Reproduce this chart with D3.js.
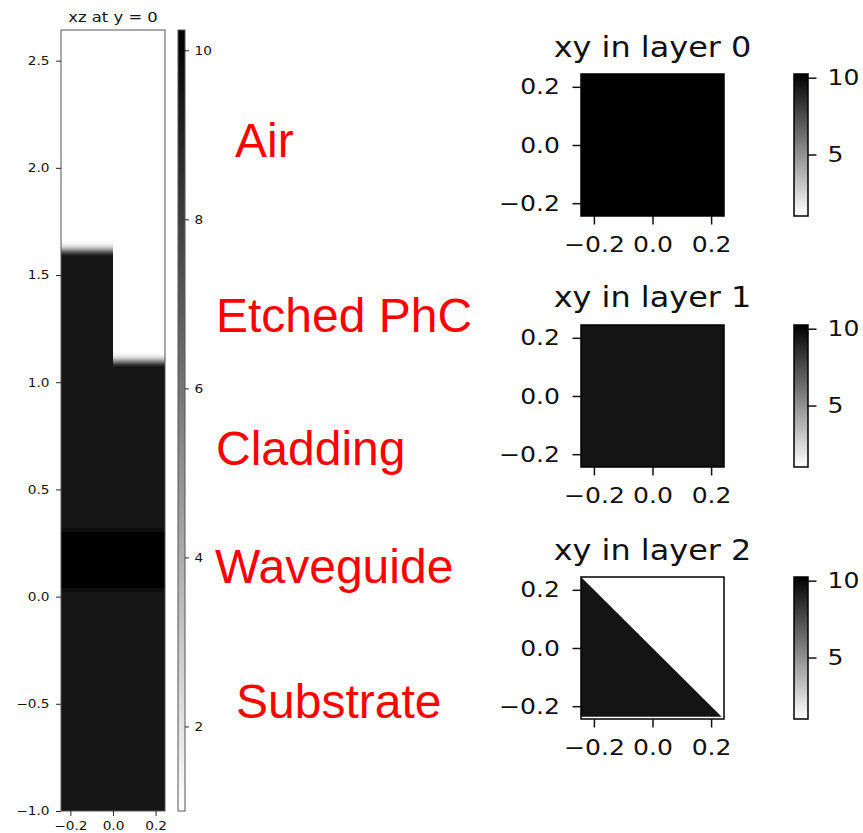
<!DOCTYPE html>
<html><head><meta charset="utf-8">
<script src="https://cdn.jsdelivr.net/npm/d3@7"></script>
<style>body{margin:0;background:#fff} svg{display:block}</style>
</head><body><svg id="c" width="863" height="833"></svg>
<script>
// ---------- data ----------
const epsMin = 1.0, epsMax = 10.24;
// xz cross-section at y = 0 (blocks in data units x, z)
const xzBlockName = ["Substrate","Waveguide","Cladding","Etched PhC filled","Etched PhC hole","Air"];
const xzBlockX0 = [-0.3,-0.3,-0.3,-0.3,0.0,-0.3];
const xzBlockX1 = [0.3,0.3,0.3,0.0,0.3,0.3];
const xzBlockZ0 = [-1.3,0.03,0.31,1.11,1.11,1.625];
const xzBlockZ1 = [0.03,0.31,1.11,1.625,1.625,2.9];
const xzBlockEps = [9.5,10.24,9.5,9.5,1.0,1.0];
const xzXDomain = [-0.244,0.244];
const xzZDomain = [-1.0,2.643];
const xzXTicks = [-0.2,0.0,0.2];
const xzZTicks = [-1.0,-0.5,0.0,0.5,1.0,1.5,2.0,2.5];
const cbTicksLeft = [2,4,6,8,10];
// xy slices per layer
const xyTitles = ["xy in layer 0","xy in layer 1","xy in layer 2"];
const xyBackgroundEps = [10.24,9.5,1.0];
const xyPolygonEps = [null,null,9.5];
const xyPolygons = [[],[],[[-0.244,0.244],[0.236,-0.236],[-0.244,-0.236]]];
const xyDomain = [-0.244,0.244];
const xyTicks = [-0.2,0.0,0.2];
const cbTicksRight = [5,10];
// annotation labels
const layerLabels = ["Air","Etched PhC","Cladding","Waveguide","Substrate"];

// ---------- layout ----------
const svg = d3.select("#c");
const color = d3.scaleLinear().domain([epsMin,epsMax]).range(["#ffffff","#000000"]);
const fmt = d3.format(".1f");
const SX = 1.14;
const defs = svg.append("defs");
const grad = defs.append("linearGradient").attr("id","gr").attr("x1",0).attr("y1",1).attr("x2",0).attr("y2",0);
grad.append("stop").attr("offset","0%").attr("stop-color",color(epsMin));
grad.append("stop").attr("offset","100%").attr("stop-color",color(epsMax));
const blur = defs.append("filter").attr("id","vblur").attr("filterUnits","userSpaceOnUse")
  .attr("x",0).attr("y",-100).attr("width",400).attr("height",1100);
blur.append("feGaussianBlur").attr("stdDeviation","0 3");

function styleAxis(g, fs, col, sw){
  g.selectAll("text").attr("font-family","DejaVu Sans").attr("font-size",fs).attr("fill",col);
  g.selectAll("line").attr("stroke",col).attr("stroke-width",sw);
  g.select(".domain").remove();
}

// ----- left xz panel -----
const L = {x0:61,x1:165,y0:30,y1:811};
const xS = d3.scaleLinear().domain(xzXDomain).range([L.x0,L.x1]);
const zS = d3.scaleLinear().domain(xzZDomain).range([L.y1,L.y0]);
defs.append("clipPath").attr("id","clipL").append("rect")
  .attr("x",L.x0).attr("y",L.y0).attr("width",L.x1-L.x0).attr("height",L.y1-L.y0);
const imgL = svg.append("g").attr("clip-path","url(#clipL)").append("g").attr("filter","url(#vblur)");
imgL.selectAll("rect").data(xzBlockEps).join("rect")
  .attr("x",(d,i)=>Math.round(xS(xzBlockX0[i]))).attr("width",(d,i)=>Math.round(xS(xzBlockX1[i]))-Math.round(xS(xzBlockX0[i])))
  .attr("y",(d,i)=>Math.round(zS(xzBlockZ1[i]))).attr("height",(d,i)=>Math.round(zS(xzBlockZ0[i]))-Math.round(zS(xzBlockZ1[i])))
  .attr("shape-rendering","crispEdges")
  .attr("fill",d=>color(d));
svg.append("rect").attr("x",L.x0).attr("y",L.y0).attr("width",L.x1-L.x0).attr("height",L.y1-L.y0)
  .attr("fill","none").attr("stroke","#555").attr("stroke-width",1);
const gLy = svg.append("g").attr("transform",`translate(${L.x0},0)`)
  .call(d3.axisLeft(zS).tickValues(xzZTicks).tickFormat(fmt).tickSize(5));
styleAxis(gLy,12,"#111",0.9);
gLy.selectAll("text").attr("x",-11.5/SX).attr("transform",`scale(${SX},1)`);
const gLx = svg.append("g").attr("transform",`translate(0,${L.y1})`)
  .call(d3.axisBottom(xS).tickValues(xzXTicks).tickFormat(fmt).tickSize(5).tickPadding(5.5));
styleAxis(gLx,12,"#111",0.9);
gLx.selectAll("text").attr("transform",`scale(${SX},1)`);
svg.append("text").attr("transform",`translate(${(L.x0+L.x1)/2},22) scale(${SX},1)`)
  .attr("text-anchor","middle").attr("font-family","DejaVu Sans").attr("font-size",14.4).attr("fill","#111")
  .text("xz at y = 0");
// left colorbar
const CBL = {x0:178,x1:185,y0:30,y1:811};
const cbS = d3.scaleLinear().domain([epsMin,epsMax]).range([CBL.y1,CBL.y0]);
svg.append("rect").attr("x",CBL.x0).attr("y",CBL.y0).attr("width",CBL.x1-CBL.x0).attr("height",CBL.y1-CBL.y0)
  .attr("fill","url(#gr)").attr("stroke","#555").attr("stroke-width",1);
const gCbl = svg.append("g").attr("transform",`translate(${CBL.x1},0)`)
  .call(d3.axisRight(cbS).tickValues(cbTicksLeft).tickFormat(d3.format("d")).tickSize(4));
styleAxis(gCbl,12,"#111",0.9);
gCbl.selectAll("text").attr("x",9.5/SX).attr("transform",`scale(${SX},1)`);

// ----- right xy panels -----
const R = {x0:581,x1:724,h:142};
const rTops = [74,325,577];
const titleBase = [57,307,560];
const CBR = {x0:794,x1:808};
xyTitles.forEach((t,k)=>{
  const top = rTops[k], bot = top+R.h;
  const xs = d3.scaleLinear().domain(xyDomain).range([R.x0,R.x1]);
  const ys = d3.scaleLinear().domain(xyDomain).range([bot,top]);
  const g = svg.append("g");
  g.append("rect").attr("x",xs(xyDomain[0])).attr("y",ys(xyDomain[1]))
    .attr("width",xs(xyDomain[1])-xs(xyDomain[0])).attr("height",ys(xyDomain[0])-ys(xyDomain[1]))
    .attr("fill",color(xyBackgroundEps[k]));
  if (xyPolygons[k].length){
    g.append("path").datum(xyPolygons[k])
      .attr("d",d3.line().x(d=>xs(d[0])).y(d=>ys(d[1])).curve(d3.curveLinearClosed))
      .attr("fill",color(xyPolygonEps[k]));
  }
  g.append("rect").attr("x",R.x0).attr("y",top).attr("width",R.x1-R.x0).attr("height",R.h)
    .attr("fill","none").attr("stroke","#000").attr("stroke-width",1.5);
  const gy = g.append("g").attr("transform",`translate(${R.x0},0)`)
    .call(d3.axisLeft(ys).tickValues(xyTicks).tickFormat(fmt).tickSize(8.5));
  styleAxis(gy,22,"#111",1.5);
  gy.selectAll("text").attr("x",-21/SX).attr("transform",`scale(${SX},1)`);
  const gx = g.append("g").attr("transform",`translate(0,${bot})`)
    .call(d3.axisBottom(xs).tickValues(xyTicks).tickFormat(fmt).tickSize(8.5).tickPadding(12));
  styleAxis(gx,22,"#111",1.5);
  gx.selectAll("text").attr("transform",`scale(${SX},1)`);
  g.append("text").attr("transform",`translate(${(R.x0+R.x1)/2},${titleBase[k]}) scale(${SX},1)`)
    .attr("text-anchor","middle").attr("font-family","DejaVu Sans").attr("font-size",28).attr("fill","#111")
    .text(t);
  // colorbar
  const cs = d3.scaleLinear().domain([epsMin,epsMax]).range([bot,top]);
  g.append("rect").attr("x",CBR.x0).attr("y",top).attr("width",CBR.x1-CBR.x0).attr("height",R.h)
    .attr("fill","url(#gr)").attr("stroke","#000").attr("stroke-width",1.5);
  const gc = g.append("g").attr("transform",`translate(${CBR.x1},0)`)
    .call(d3.axisRight(cs).tickValues(cbTicksRight).tickFormat(d3.format("d")).tickSize(8.5));
  styleAxis(gc,22,"#111",1.5);
  gc.selectAll("text").attr("x",19.5/SX).attr("transform",`scale(${SX},1)`);
});

// ----- red annotation labels -----
const labelPos = [[235,157],[216,332],[216,465],[215,583],[236,718]];
svg.append("g").selectAll("text").data(layerLabels).join("text")
  .attr("x",(d,i)=>labelPos[i][0]).attr("y",(d,i)=>labelPos[i][1])
  .attr("font-family","Liberation Sans").attr("font-size",48).attr("fill","#ff0000")
  .text(d=>d);
</script></body></html>
